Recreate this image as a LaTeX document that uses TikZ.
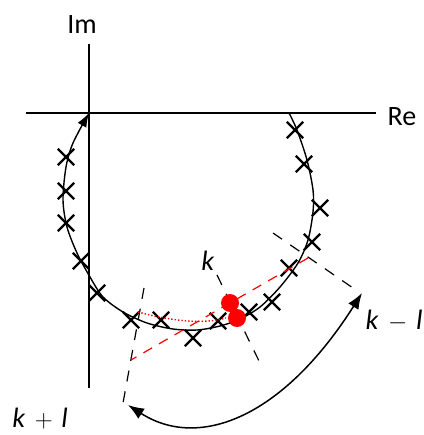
\documentclass[tikz,border=0pt]{standalone}
\usepackage{fontspec}
\setmainfont{Carlito}
\usetikzlibrary{arrows.meta, shapes.misc}

\begin{document}
\begin{tikzpicture}[x=1pt,y=-1pt,
  every node/.style={font=\fontsize{28}{30}\selectfont},
  sample/.style={draw,cross out,line width=2.3pt,minimum size=14pt,inner sep=0pt},
  peak/.style={circle,fill=red,minimum size=18pt,inner sep=0pt},
  guide/.style={dash pattern=on 11pt off 10pt,line width=1.2pt},
  sweep/.style={{Latex[length=16pt,width=12pt]}-{Latex[length=16pt,width=12pt]},line width=1.5pt}]
  \useasboundingbox (0,0) rectangle (423,435);
  % axes
  \coordinate (O) at (89,113);
  \coordinate (xl) at (26,113);
  \coordinate (xr) at (376,113);
  \coordinate (yt) at (89,44);
  \coordinate (yb) at (89,388);
  \draw[line width=1.6pt] (xl) -- (xr);
  \draw[line width=1.6pt] (yt) -- (yb);
  \node (Im) at (82,25) {Im};
  \node (Re) at (402,117) {Re};
  % locus
  \draw[line width=1.4pt,-{Latex[length=14pt,width=10pt]}] plot[smooth] coordinates {
    (289,113) (297,130) (307,160) (313,190) (313,212) (308,240) (298,263)
    (280,287) (260,307) (240,319) (220,326) (197,330) (173,329) (147,323)
    (123,312) (103,297) (90,277) (77,253) (67,227) (63,200) (66,167)
    (73,143) (O)};
  % samples
  \node[sample] (s1) at (295,130) {};
  \node[sample] (s2) at (304,164) {};
  \node[sample] (s3) at (320,208) {};
  \node[sample] (s4) at (312,242) {};
  \node[sample] (s5) at (289,268) {};
  \node[sample] (s6) at (272,302) {};
  \node[sample] (s7) at (249,312) {};
  \node[sample] (s8) at (218,321) {};
  \node[sample] (s9) at (193,338) {};
  \node[sample] (s10) at (161,320) {};
  \node[sample] (s11) at (131,320) {};
  \node[sample] (s12) at (97,293) {};
  \node[sample] (s13) at (81,261) {};
  \node[sample] (s14) at (66,223) {};
  \node[sample] (s15) at (66,191) {};
  \node[sample] (s16) at (66,157) {};
  % directions
  \coordinate (k1) at (217,275);
  \coordinate (k2) at (260,363);
  \coordinate (m1) at (273,233);
  \coordinate (m2) at (353,288);
  \coordinate (p1) at (144,288);
  \coordinate (p2) at (123,403);
  \coordinate (r1) at (308,258);
  \coordinate (r2) at (131,360);
  \coordinate (d1) at (138,312);
  \coordinate (d2) at (226,318);
  \draw[guide] (k1) -- (k2);
  \draw[guide] (m1) -- (m2);
  \draw[guide] (p1) -- (p2);
  \draw[guide,red,dash pattern=on 10pt off 8pt] (r1) -- (r2);
  \draw[red,line width=1.4pt,dotted] (d1) .. controls (175,322) and (205,324) .. (d2);
  \node[peak] (a) at (230,303) {};
  \node[peak] (b) at (237,318) {};
  \node (k) at (208,261) {\textit{k}};
  \node (kml) at (394,321) {\textit{k}\hspace{4pt}${}-{}$\hspace{3pt}\textit{l}};
  \node (kpl) at (40,419) {\textit{k}\hspace{4pt}${}+{}$\hspace{3pt}\textit{l}};
  % sweep
  \coordinate (e1) at (128,405);
  \coordinate (e2) at (362,293);
  \draw[sweep] (e1) .. controls (198,450) and (282,419) .. (e2);
\end{tikzpicture}
\end{document}
